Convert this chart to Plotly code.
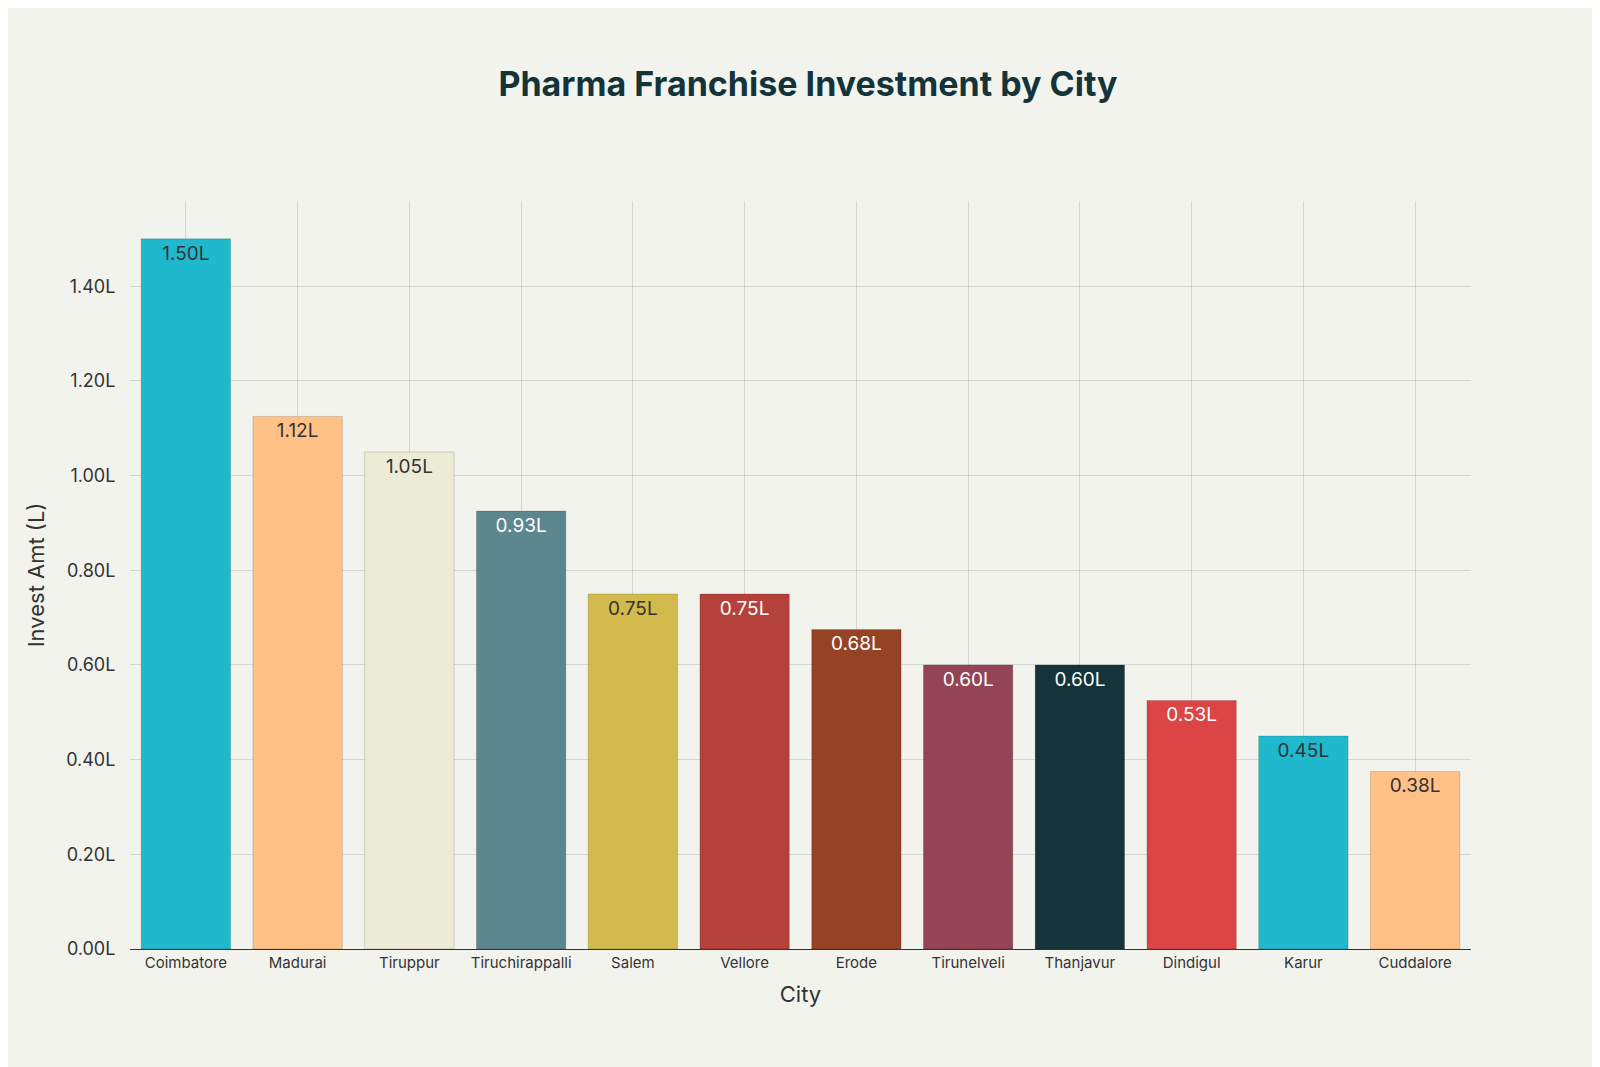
import plotly.graph_objects as go

cities = ["Coimbatore", "Madurai", "Tiruppur", "Tiruchirappalli", "Salem", "Vellore",
          "Erode", "Tirunelveli", "Thanjavur", "Dindigul", "Karur", "Cuddalore"]
invest = [1.50, 1.125, 1.05, 0.925, 0.75, 0.75, 0.675, 0.60, 0.60, 0.525, 0.45, 0.375]
labels = ["1.50L", "1.12L", "1.05L", "0.93L", "0.75L", "0.75L", "0.68L", "0.60L",
          "0.60L", "0.53L", "0.45L", "0.38L"]

colors = ["#1FB8CD", "#FFC185", "#ECEBD5", "#5D878F", "#D2BA4C", "#B4413C",
          "#964325", "#944454", "#13343B", "#DB4545", "#1FB8CD", "#FFC185"]
text_colors = ["#333333", "#333333", "#333333", "white", "#333333", "white",
               "white", "white", "white", "white", "#333333", "#333333"]

fig = go.Figure(go.Bar(
    x=cities, y=invest, text=labels, textposition="inside", insidetextanchor="end",
    textfont=dict(size=19, color=text_colors),
    marker=dict(color=colors, line=dict(color="rgba(0,0,0,0.15)", width=1)),
    cliponaxis=False,
))

fig.update_layout(
    width=1600, height=1067,
    paper_bgcolor="#F3F3EE", plot_bgcolor="#F3F3EE",
    font=dict(family="Inter, sans-serif", color="#333333"),
    title=dict(text="<b>Pharma Franchise Investment by City</b>", x=0.5, y=0.94,
               font=dict(size=34, color="#13343B")),
    margin=dict(l=122, r=137, t=193, b=126),
    bargap=0.2,
    showlegend=False,
)
fig.update_xaxes(title=dict(text="City", font=dict(size=22)), tickfont=dict(size=15),
                 showgrid=True, gridcolor="rgba(0,0,0,0.12)",
                 showline=True, linecolor="#333333")
fig.update_yaxes(title=dict(text="Invest Amt (L)", font=dict(size=22)), tickfont=dict(size=18),
                 range=[0, 1.58], dtick=0.2, tickformat=".2f", ticksuffix="L",
                 ticks="outside", ticklen=10, tickcolor="rgba(0,0,0,0)",
                 gridcolor="rgba(0,0,0,0.12)", zeroline=False)

fig.write_html("out.html")
